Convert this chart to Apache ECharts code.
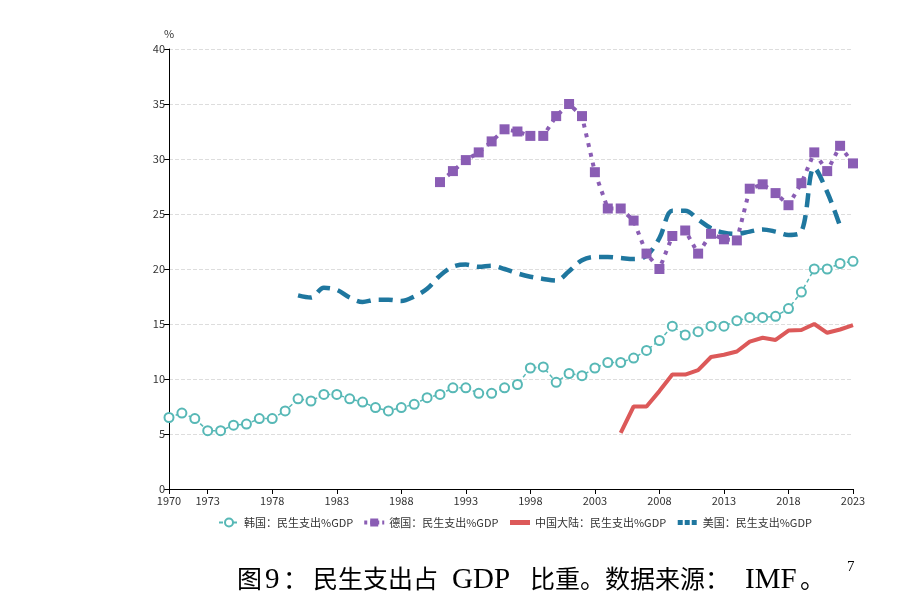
<!DOCTYPE html>
<html>
<head>
<meta charset="utf-8">
<title>民生支出占 GDP 比重</title>
<script src="https://cdn.jsdelivr.net/npm/echarts@6/dist/echarts.min.js"></script>
<style>
  html, body { margin: 0; padding: 0; background: #fff; }
  #chart { width: 913px; height: 609px; }
</style>
</head>
<body>
<div id="chart"></div>
<script>
// 数据（读自原图，单位：%GDP）
const xTickYears = [1970, 1973, 1978, 1983, 1988, 1993, 1998, 2003, 2008, 2013, 2018, 2023];

const koreaStart = 1970;
const koreaValues = [
    6.5, 6.9, 6.4, 5.3, 5.3, 5.8, 5.9, 6.4, 6.4, 7.1,
    8.2, 8.0, 8.6, 8.6, 8.2, 7.9, 7.4, 7.1, 7.4, 7.7,
    8.3, 8.6, 9.2, 9.2, 8.7, 8.7, 9.2, 9.5, 11.0, 11.1,
    9.7, 10.5, 10.3, 11.0, 11.5, 11.5, 11.9, 12.6, 13.5, 14.8,
    14.0, 14.3, 14.8, 14.8, 15.3, 15.6, 15.6, 15.7, 16.4, 17.9,
    20.0, 20.0, 20.5, 20.7
];

const germanyStart = 1991;
const germanyValues = [
    27.9, 28.9, 29.9, 30.6, 31.6, 32.7, 32.5, 32.1, 32.1, 33.9,
    35.0, 33.9, 28.8, 25.5, 25.5, 24.4, 21.4, 20.0, 23.0, 23.5,
    21.4, 23.2, 22.7, 22.6, 27.3, 27.7, 26.9, 25.8, 27.8, 30.6,
    28.9, 31.2, 29.6
];

const chinaStart = 2005;
const chinaValues = [
    5.1, 7.5, 7.5, 8.9, 10.4, 10.4, 10.8, 12.0, 12.2, 12.5,
    13.4, 13.75, 13.55, 14.4, 14.45, 15.0, 14.2, 14.5, 14.9
];

const usaStart = 1980;
const usaValues = [
    17.6, 17.4, 18.3, 18.1, 17.4, 17.0, 17.2, 17.2, 17.1, 17.5,
    18.2, 19.4, 20.2, 20.4, 20.2, 20.3, 20.0, 19.6, 19.3, 19.1,
    18.95, 19.8, 20.8, 21.1, 21.1, 21.0, 20.9, 21.2, 22.8, 25.3,
    25.3, 24.5, 23.7, 23.3, 23.2, 23.4, 23.6, 23.4, 23.1, 23.4,
    29.2, 27.0, 23.9
];

// 图注分段文字（原图中西文字号不同、字距较宽，分段摆放）
const captionParts = ['图', '9', '：', '民生支出占', 'GDP', '比重。数据来源：', 'IMF', '。'];
const captionLatin = [false, true, false, false, true, false, true, false];
const captionLeft = [237, 265, 283, 313, 452, 530, 745, 800];

// 把起始年份 + 数值数组转成 [年份, 数值]
function toPairs(start, values) {
    return values.map((v, i) => [start + i, v]);
}

const cjk = "'Noto Sans CJK SC', 'Noto Sans', sans-serif";
const serif = "'Liberation Serif', serif";

const captionGraphics = captionParts.map((t, i) => ({
    type: 'text',
    left: captionLeft[i],
    top: captionLatin[i] ? 566 : 566,
    style: {
        text: t,
        fontFamily: captionLatin[i] ? serif : cjk,
        fontSize: captionLatin[i] ? 29 : 25,
        fill: '#000'
    }
}));
captionGraphics.push({
    type: 'text',
    left: 847,
    top: 560,
    style: { text: '7', fontFamily: serif, fontSize: 15, fill: '#000' }
});

const chart = echarts.init(document.getElementById('chart'));

chart.setOption({
    animation: false,
    backgroundColor: '#fff',
    grid: { left: 169, right: 60, top: 49, bottom: 120 },
    legend: {
        bottom: 76,
        left: 213,
        itemWidth: 20,
        itemHeight: 10,
        itemGap: 9,
        textStyle: { fontFamily: cjk, fontSize: 11, color: '#333' },
        data: [
            { name: '韩国：民生支出%GDP' },
            { name: '德国：民生支出%GDP', lineStyle: { width: 4, type: [3, 3] } },
            { name: '中国大陆：民生支出%GDP', itemStyle: { opacity: 0 }, lineStyle: { width: 5 } },
            { name: '美国：民生支出%GDP', itemStyle: { opacity: 0 }, lineStyle: { width: 5, type: [5, 2] } }
        ]
    },
    xAxis: {
        type: 'value',
        min: 1970,
        max: 2023,
        axisLine: { lineStyle: { color: '#000', width: 1 } },
        axisTick: { show: true, customValues: xTickYears, length: 5, lineStyle: { color: '#000' } },
        axisLabel: {
            customValues: xTickYears,
            color: '#333',
            fontSize: 11,
            fontFamily: cjk,
            margin: 6,
            formatter: v => String(v)
        },
        splitLine: { show: false }
    },
    yAxis: {
        type: 'value',
        min: 0,
        max: 40,
        interval: 5,
        name: '%',
        nameGap: 10,
        nameTextStyle: { color: '#333', fontSize: 11, fontFamily: cjk },
        axisLine: { show: true, lineStyle: { color: '#000', width: 1 } },
        axisTick: { show: true, length: 5, lineStyle: { color: '#000' } },
        axisLabel: { color: '#333', fontSize: 11, fontFamily: cjk, margin: 4 },
        splitLine: { lineStyle: { type: 'dashed', color: '#ddd' } }
    },
    series: [
        {
            name: '韩国：民生支出%GDP',
            type: 'line',
            data: toPairs(koreaStart, koreaValues),
            symbol: 'emptyCircle',
            symbolSize: 9,
            color: '#57b8b6',
            itemStyle: { borderWidth: 1.8 },
            lineStyle: { width: 1.5, type: [4, 3] }
        },
        {
            name: '德国：民生支出%GDP',
            type: 'line',
            data: toPairs(germanyStart, germanyValues),
            symbol: 'rect',
            symbolSize: 10,
            color: '#8a5db4',
            lineStyle: { width: 4, type: [4, 6] }
        },
        {
            name: '中国大陆：民生支出%GDP',
            type: 'line',
            data: toPairs(chinaStart, chinaValues),
            symbol: 'none',
            color: '#dc5959',
            lineStyle: { width: 4 }
        },
        {
            name: '美国：民生支出%GDP',
            type: 'line',
            data: toPairs(usaStart, usaValues),
            symbol: 'none',
            smooth: 0.35,
            color: '#1f779f',
            lineStyle: { width: 4.5, type: [14, 8] }
        }
    ],
    graphic: captionGraphics
});
</script>
</body>
</html>
